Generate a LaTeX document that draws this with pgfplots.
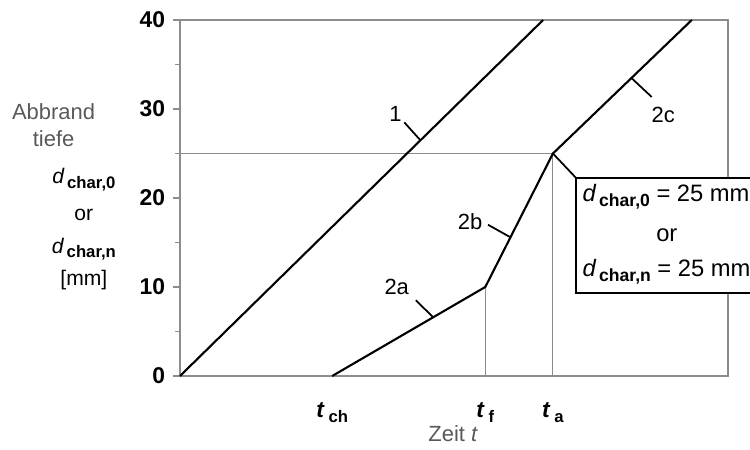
\documentclass[border=0pt]{standalone}
\usepackage{pgfplots}
\pgfplotsset{compat=1.18}
\usepackage{fontspec}
\setmainfont{Liberation Sans}
\definecolor{axgray}{gray}{0.55}
\definecolor{labgray}{gray}{0.35}
% d_char,x and t_x with bold sans subscripts
\newcommand{\dch}[2]{\textit{d}\kern1.5pt\raisebox{-0.4ex}{\fontsize{#2}{#2}\selectfont\bfseries char,#1}}
\newcommand{\tsub}[1]{\textbf{\textit{t}\,\raisebox{-0.45ex}{\fontsize{9.5}{9.5}\selectfont #1}}}
\begin{document}
\begin{tikzpicture}
\begin{axis}[
    scale only axis, width=10.96cm, height=7.12cm,
    xmin=0, xmax=61.57, ymin=0, ymax=40,
    clip=false,
    axis line style={axgray, line width=0.6pt},
    ytick={0,10,20,30,40}, minor ytick={5,15,25,35},
    ytick pos=left, tick align=outside,
    major tick length=0.14cm, minor tick length=0.09cm,
    tick style={axgray, line width=0.6pt},
    /pgf/number format/assume math mode=true,
    yticklabel style={font=\fontsize{13}{13}\selectfont\bfseries, xshift=-1pt},
    xtick={17.1,34.3,41.9},
    xticklabels={\tsub{ch},\tsub{f},\tsub{a}},
    xtick style={draw=none},
    xticklabel style={anchor=base, yshift=-0.68cm, font=\fontsize{13}{13}\selectfont},
  ]
% guide lines
\addplot[axgray, line width=0.6pt] coordinates {(0,25) (41.9,25)};
\addplot[axgray, line width=0.6pt] coordinates {(34.3,0) (34.3,10)};
\addplot[axgray, line width=0.6pt] coordinates {(41.9,0) (41.9,25)};
% charring curves
\addplot[black, line width=1.2pt] coordinates {(0,0) (40.8,40)};
\addplot[black, line width=1.2pt] coordinates {(17.1,0) (34.3,10) (41.9,25) (57.5,40)};

% leaders and curve labels
\begin{scope}[every node/.style={font=\fontsize{12.5}{12.5}\selectfont}]
\draw[black, line width=1pt] (25.2,28.5) -- (27.0,26.5);
\node at (24.2,29.4) {1};
\draw[black, line width=1pt] (34.6,17.0) -- (37.1,15.6);
\node at (32.6,17.3) {2b};
\draw[black, line width=1pt] (26.5,8.5) -- (28.45,6.6);
\node at (24.35,10.0) {2a};
\draw[black, line width=1pt] (50.7,33.5) -- (53.0,31.35);
\node at (54.3,29.3) {2c};
\draw[black, line width=1pt] (41.9,25) -- (44.5,22.25);
\draw[black, line width=1.2pt, fill=white] (44.5,9.33) rectangle (65.2,22.25);
\node[anchor=base west, inner sep=0pt, font=\fontsize{13.5}{13.5}\selectfont] at (45.2,19.6) {\dch{0}{10} = 25 mm};
\node[anchor=base, inner sep=0pt, font=\fontsize{13.5}{13.5}\selectfont] at (54.7,15.1) {or};
\node[anchor=base west, inner sep=0pt, font=\fontsize{13.5}{13.5}\selectfont] at (45.2,11.2) {\dch{n}{10} = 25 mm};

% axis titles
\node[anchor=base, labgray] at (-14.2,28.8) {Abbrand};
\node[anchor=base, labgray] at (-14.2,25.8) {tiefe};
\node[anchor=base, font=\fontsize{12}{12}\selectfont] at (-10.8,21.6) {\dch{0}{9.5}};
\node[anchor=base, font=\fontsize{12}{12}\selectfont] at (-10.8,17.5) {or};
\node[anchor=base, font=\fontsize{12}{12}\selectfont] at (-10.8,13.8) {\dch{n}{9.5}};
\node[anchor=base, font=\fontsize{12}{12}\selectfont] at (-10.8,10.2) {[mm]};
\node[anchor=base, labgray] at (30.7,-7.4) {Zeit \textit{t}};
\end{scope}
\end{axis}
\pgfresetboundingbox
\path[use as bounding box] (-3.6,-1.48) rectangle (11.4,7.52);
\end{tikzpicture}
\end{document}
